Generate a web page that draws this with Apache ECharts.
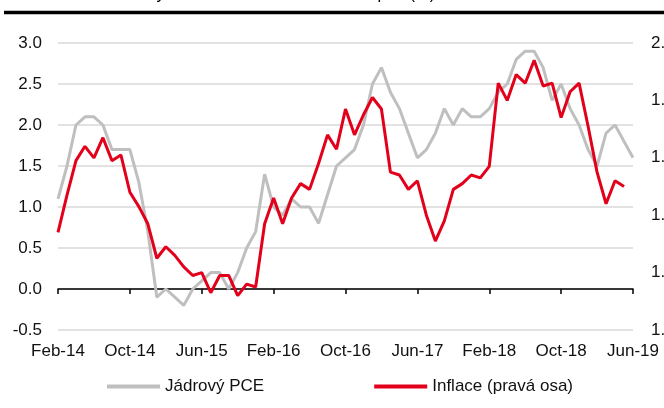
<!DOCTYPE html>
<html>
<head>
<meta charset="utf-8">
<title>Inflace</title>
<script src="https://cdn.jsdelivr.net/npm/echarts@6/dist/echarts.min.js"></script>
<style>
    html,body{margin:0;padding:0;background:#fff;}
    #wrap{width:664px;height:408px;}
</style>
</head>
<body>
<div id="wrap"></div>
<script>
var months=['Feb-14','Mar-14','Apr-14','May-14','Jun-14','Jul-14','Aug-14','Sep-14','Oct-14','Nov-14','Dec-14',
    'Jan-15','Feb-15','Mar-15','Apr-15','May-15','Jun-15','Jul-15','Aug-15','Sep-15','Oct-15','Nov-15','Dec-15',
    'Jan-16','Feb-16','Mar-16','Apr-16','May-16','Jun-16','Jul-16','Aug-16','Sep-16','Oct-16','Nov-16','Dec-16',
    'Jan-17','Feb-17','Mar-17','Apr-17','May-17','Jun-17','Jul-17','Aug-17','Sep-17','Oct-17','Nov-17','Dec-17',
    'Jan-18','Feb-18','Mar-18','Apr-18','May-18','Jun-18','Jul-18','Aug-18','Sep-18','Oct-18','Nov-18','Dec-18',
    'Jan-19','Feb-19','Mar-19','Apr-19','May-19','Jun-19'];

// levá osa
var jadrovyPCE=[1.1,1.5,2.0,2.1,2.1,2.0,1.7,1.7,1.7,1.3,
    0.7,-0.1,0.0,-0.1,-0.2,0.0,0.1,0.2,0.2,0.0,
    0.2,0.5,0.7,1.4,1.0,0.9,1.1,1.0,1.0,0.8,
    1.15,1.5,1.6,1.7,2.0,2.5,2.7,2.4,2.2,1.9,
    1.6,1.7,1.9,2.2,2.0,2.2,2.1,2.1,2.2,2.4,
    2.5,2.8,2.9,2.9,2.7,2.3,2.5,2.2,2.0,1.7,
    1.5,1.9,2.0,1.8,1.6];

// pravá osa
var inflace=[1.34,1.47,1.59,1.64,1.60,1.67,1.59,1.61,1.48,1.43,
    1.37,1.25,1.29,1.26,1.22,1.19,1.20,1.13,1.19,1.19,
    1.12,1.16,1.15,1.37,1.46,1.37,1.46,1.51,1.49,1.58,
    1.68,1.63,1.77,1.68,1.75,1.81,1.77,1.55,1.54,1.49,
    1.52,1.40,1.31,1.38,1.49,1.51,1.54,1.53,1.57,1.86,
    1.80,1.89,1.86,1.94,1.85,1.86,1.74,1.83,1.86,1.71,
    1.55,1.44,1.52,1.50,null];

var seriesNames=['Jádrový PCE','Inflace (pravá osa)'];
var titleText='Vybrané ukazatele inflace USA p.a. (%)';

var font='"Liberation Sans", Arial, sans-serif';
var myChart=echarts.init(document.getElementById('wrap'));

var option={
    animation:false,
    textStyle:{fontFamily:font},
    graphic:[
        // titulek je nahore oriznuty
        {type:'text',x:146,y:-5.5,style:{text:titleText,font:'16.5px '+font,fill:'#000',verticalAlign:'middle'}},
        {type:'line',shape:{x1:4,y1:12.5,x2:664,y2:12.5},style:{stroke:'#000',lineWidth:3.5}}
    ],
    grid:{left:58,right:31,top:43,bottom:78,outerBoundsMode:'none',containLabel:false},
    legend:{
        data:seriesNames,
        left:102,
        top:373,
        icon:'rect',
        itemWidth:53,
        itemHeight:4,
        itemGap:110,
        textStyle:{fontSize:17,color:'#111',fontFamily:font}
    },
    xAxis:[{
        type:'category',
        data:months,
        boundaryGap:false,
        axisLine:{show:false,onZero:false},
        axisTick:{show:false},
        axisLabel:{interval:7,margin:13,fontSize:17,color:'#111'},
        splitLine:{show:false}
    },{
        // osa v nule s ticky
        type:'category',
        data:months,
        boundaryGap:false,
        position:'bottom',
        axisLine:{show:true,onZero:true,onZeroAxisIndex:0,lineStyle:{color:'#000',width:1.5}},
        axisTick:{show:true,interval:7,length:5,lineStyle:{color:'#000',width:1.5}},
        axisLabel:{show:false},
        splitLine:{show:false}
    }],
    yAxis:[{
        type:'value',
        min:-0.5,
        max:3,
        interval:0.5,
        axisLine:{show:false},
        axisTick:{show:false},
        axisLabel:{margin:16,fontSize:17,color:'#111',formatter:function(v){return v.toFixed(1);}},
        splitLine:{show:true,lineStyle:{color:'#d9d9d9',width:1.5}}
    },{
        type:'value',
        min:1.0,
        max:2.0,
        interval:0.2,
        position:'right',
        axisLine:{show:false},
        axisTick:{show:false},
        axisLabel:{margin:18,fontSize:17,color:'#111',formatter:function(v){return v.toFixed(1);}},
        splitLine:{show:false}
    }],
    series:[{
        name:seriesNames[0],
        type:'line',
        data:jadrovyPCE,
        yAxisIndex:0,
        symbol:'none',
        itemStyle:{color:'#bfbfbf'},
        lineStyle:{color:'#bfbfbf',width:3}
    },{
        name:seriesNames[1],
        type:'line',
        data:inflace,
        yAxisIndex:1,
        symbol:'none',
        itemStyle:{color:'#e2001a'},
        lineStyle:{color:'#e2001a',width:3}
    }]
};
myChart.setOption(option);
</script>
</body>
</html>
